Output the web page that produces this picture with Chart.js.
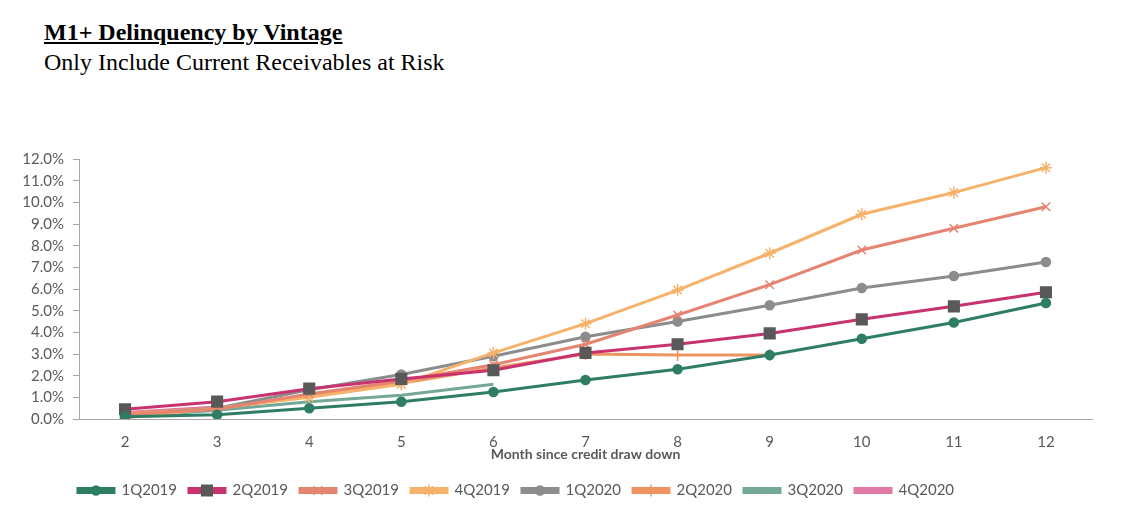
<!DOCTYPE html>
<html>
<head>
    <meta charset="UTF-8">
    <title>M1+ Delinquency by Vintage</title>
    <script src="https://cdn.jsdelivr.net/npm/chart.js@4.4.0/dist/chart.umd.min.js"></script>
    <style>
        body { margin: 0; background: #fff; }
        #wrap { position: relative; width: 1126px; height: 516px; }
        #title { position: absolute; left: 44px; top: 19px; font: bold 24px "Liberation Serif", serif; text-decoration: underline; color: #000; }
        #subtitle { position: absolute; left: 44px; top: 49px; font: 24px "Liberation Serif", serif; color: #000; }
        canvas { position: absolute; left: 0; top: 0; }
    </style>
</head>
<body>
<div id="wrap">
    <div id="title">M1+ Delinquency by Vintage</div>
    <div id="subtitle">Only Include Current Receivables at Risk</div>
    <canvas id="myChart" width="1126" height="516"></canvas>
</div>
<script>
    // month since credit draw down
    var months = ['2', '3', '4', '5', '6', '7', '8', '9', '10', '11', '12'];

    // M1+ delinquency in %
    var v1Q2019 = [0.1, 0.2, 0.5, 0.8, 1.25, 1.8, 2.3, 2.95, 3.7, 4.45, 5.35];
    var v2Q2019 = [0.45, 0.8, 1.4, 1.85, 2.25, 3.05, 3.45, 3.95, 4.6, 5.2, 5.85];
    var v3Q2019 = [0.2, 0.45, 1.15, 1.75, 2.5, 3.45, 4.8, 6.2, 7.8, 8.8, 9.8];
    var v4Q2019 = [0.05, 0.5, 1.0, 1.6, 3.05, 4.4, 5.95, 7.65, 9.45, 10.45, 11.6];
    var v1Q2020 = [0.15, 0.5, 1.35, 2.05, 2.9, 3.8, 4.5, 5.25, 6.05, 6.6, 7.25];
    var v2Q2020 = [0.25, 0.5, 1.1, 1.65, 2.35, 3.0, 2.95, 2.95];
    var v3Q2020 = [0.1, 0.4, 0.8, 1.1, 1.6];
    var v4Q2020 = [0.3, 0.55];

    var grey = '#595959';

    function series(label, data, color, style, radius, pointColor) {
        return {
            label: label,
            data: data,
            borderColor: color,
            backgroundColor: color,
            borderWidth: 3,
            pointStyle: style,
            pointRadius: radius,
            pointBackgroundColor: pointColor || color,
            pointBorderColor: pointColor || color,
            pointBorderWidth: 1.5,
            tension: 0
        };
    }

    // draws each series' marker on top of its legend line
    var legendMarkers = {
        id: 'legendMarkers',
        afterDraw: function (chart) {
            var legend = chart.legend;
            if (!legend || !legend.legendHitBoxes) return;
            var ctx = chart.ctx;
            legend.legendHitBoxes.forEach(function (hb, i) {
                var ds = chart.data.datasets[i];
                if (!ds.pointRadius) return;
                ctx.save();
                ctx.fillStyle = ds.pointBackgroundColor;
                ctx.strokeStyle = ds.pointBorderColor;
                ctx.lineWidth = ds.pointBorderWidth;
                Chart.helpers.drawPoint(ctx, {
                    pointStyle: ds.pointStyle,
                    radius: ds.pointRadius,
                    rotation: 0,
                    borderWidth: ds.pointBorderWidth
                }, hb.left + 18, hb.top + 7.5);
                ctx.restore();
            });
        }
    };

    var config = {
        type: 'line',
        data: {
            labels: months,
            datasets: [
                series('1Q2019', v1Q2019, '#2E7D64', 'circle', 4.5),
                series('2Q2019', v2Q2019, '#C8336F', 'rect', 7.5, grey),
                series('3Q2019', v3Q2019, '#E58470', 'crossRot', 6),
                series('4Q2019', v4Q2019, '#F6B26B', 'star', 6),
                series('1Q2020', v1Q2020, '#8C8C8C', 'circle', 4.5),
                series('2Q2020', v2Q2020, '#EE9462', 'cross', 6),
                series('3Q2020', v3Q2020, '#74A896', 'circle', 0),
                series('4Q2020', v4Q2020, '#DE7AA5', 'circle', 0)
            ]
        },
        options: {
            responsive: false,
            animation: false,
            layout: { padding: { top: 159, right: 34, left: 0, bottom: 8 } },
            plugins: {
                legend: {
                    position: 'bottom',
                    labels: {
                        boxWidth: 36,
                        boxHeight: 4,
                        padding: 12,
                        color: grey,
                        font: { family: 'Lato', size: 15 }
                    }
                },
                tooltip: { enabled: false }
            },
            scales: {
                x: {
                    offset: true,
                    afterFit: function (s) { s.height = 52; },
                    grid: { display: false },
                    border: { display: true, color: '#a6a6a6', width: 1 },
                    ticks: { color: grey, padding: 6, font: { family: 'Lato', size: 15 } },
                    title: {
                        display: true,
                        text: 'Month since credit draw down',
                        color: grey,
                        padding: { top: 0, bottom: 8 },
                        font: { family: 'Lato', size: 14, weight: 'bold' }
                    }
                },
                y: {
                    min: 0,
                    max: 12,
                    afterFit: function (s) { s.width = 79; },
                    grid: { drawOnChartArea: false, tickLength: 6, color: '#a6a6a6' },
                    border: { display: true, color: '#a6a6a6', width: 1 },
                    ticks: {
                        stepSize: 1,
                        autoSkip: false,
                        padding: 9,
                        color: grey,
                        font: { family: 'Lato', size: 15 },
                        callback: function (v) { return v.toFixed(1) + '%'; }
                    }
                }
            }
        },
        plugins: [{
            // the legend in the original sits a bit left of centre
            id: 'legendShift',
            afterLayout: function (chart) {
                chart.legend.left -= 30;
                chart.legend.right -= 30;
            }
        }, legendMarkers]
    };

    var myChart = new Chart(document.getElementById('myChart'), config);
</script>
</body>
</html>
